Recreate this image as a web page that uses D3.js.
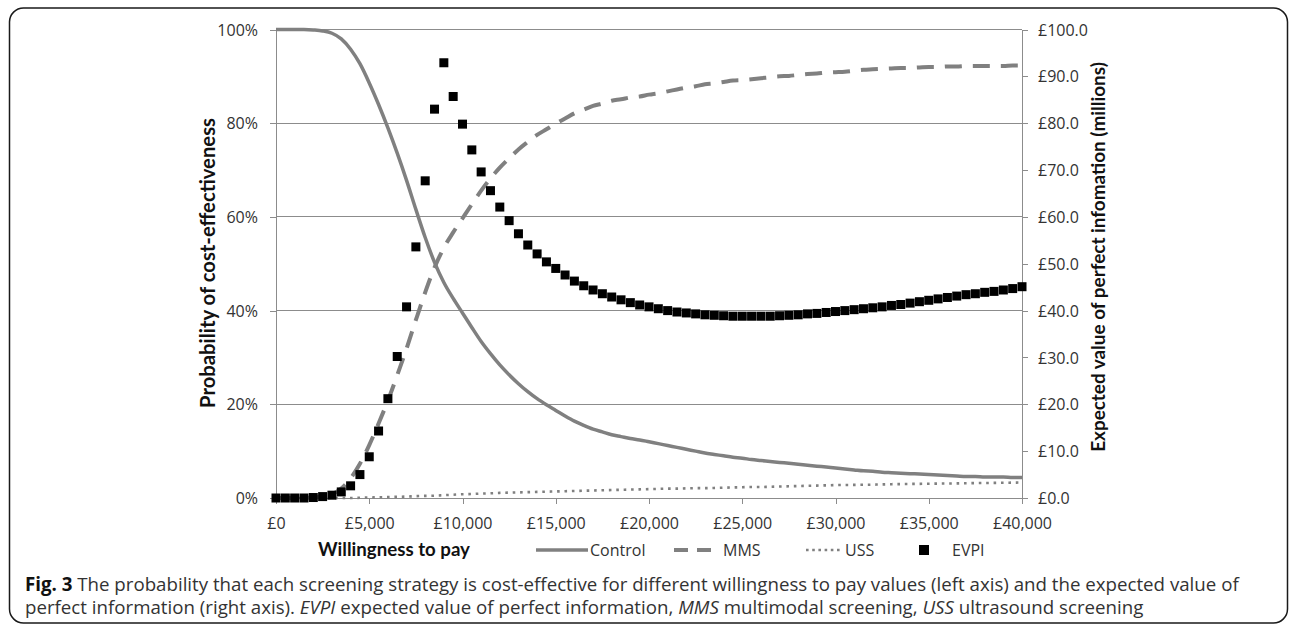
<!DOCTYPE html>
<html>
<head>
<meta charset="utf-8">
<script src="https://cdn.jsdelivr.net/npm/d3@7"></script>
<style>
  html, body { margin: 0; padding: 0; background: #fff; }
  svg { display: block; }
</style>
</head>
<body>
<svg id="chart" width="1290" height="628"></svg>
<script>
// ---------------- DATA ----------------
const wtp = [0,500,1000,1500,2000,2500,3000,3500,4000,4500,5000,5500,6000,6500,7000,7500,8000,8500,9000,9500,
  10000,10500,11000,11500,12000,12500,13000,13500,14000,14500,15000,15500,16000,16500,17000,17500,18000,18500,19000,19500,
  20000,20500,21000,21500,22000,22500,23000,23500,24000,24500,25000,25500,26000,26500,27000,27500,28000,28500,29000,29500,
  30000,30500,31000,31500,32000,32500,33000,33500,34000,34500,35000,35500,36000,36500,37000,37500,38000,38500,39000,39500,40000];

// probability of cost-effectiveness (%)
const control = [100,100,100,100,99.9,99.7,99.2,98.0,95.8,92.7,88.6,84.0,79.0,73.6,67.8,61.6,55.6,50.3,46.0,42.6,
  39.5,36.4,33.4,30.8,28.4,26.3,24.4,22.7,21.2,19.9,18.7,17.5,16.4,15.5,14.7,14.1,13.5,13.1,12.7,12.4,
  12.0,11.6,11.2,10.8,10.4,10.0,9.6,9.3,9.0,8.7,8.5,8.2,8.0,7.8,7.6,7.4,7.2,7.0,6.8,6.6,
  6.4,6.2,6.0,5.8,5.7,5.5,5.4,5.3,5.2,5.1,5.0,4.9,4.8,4.7,4.6,4.6,4.5,4.5,4.5,4.4,4.4];

const mms = [0,0,0,0,0.1,0.3,0.8,2.0,4.2,7.3,11.3,15.9,20.8,26.2,31.9,38.0,43.9,49.2,53.4,56.7,
  59.7,62.7,65.6,68.2,70.5,72.5,74.4,76.0,77.5,78.7,79.9,81.0,82.1,82.9,83.7,84.2,84.8,85.1,85.5,85.7,
  86.1,86.4,86.8,87.2,87.6,87.9,88.3,88.5,88.8,89.1,89.2,89.4,89.6,89.8,90.0,90.1,90.3,90.5,90.6,90.8,
  90.9,91.0,91.2,91.4,91.5,91.6,91.7,91.8,91.8,91.9,92.0,92.0,92.1,92.1,92.2,92.2,92.2,92.2,92.2,92.3,92.3];

const uss = [0,0,0,0,0,0,0,0,0,0.05,0.1,0.15,0.2,0.25,0.3,0.4,0.45,0.5,0.6,0.7,
  0.8,0.85,0.95,1.0,1.1,1.15,1.2,1.25,1.3,1.35,1.4,1.45,1.5,1.55,1.6,1.65,1.7,1.75,1.8,1.85,
  1.9,1.95,2.0,2.0,2.05,2.1,2.1,2.15,2.2,2.25,2.3,2.35,2.35,2.4,2.45,2.5,2.55,2.6,2.65,2.7,
  2.75,2.78,2.8,2.83,2.85,2.9,2.95,2.97,3.0,3.02,3.05,3.08,3.1,3.12,3.15,3.18,3.2,3.22,3.25,3.28,3.3];

// expected value of perfect information (£ millions)
const evpi = [0,0,0,0,0.1,0.3,0.6,1.3,2.6,5.0,8.8,14.3,21.2,30.2,40.8,53.6,67.7,83.0,92.9,85.7,
  79.8,74.3,69.6,65.6,62.1,59.2,56.4,54.0,52.1,50.4,49.0,47.6,46.3,45.3,44.4,43.6,42.9,42.3,41.7,41.2,
  40.8,40.4,40.0,39.7,39.5,39.3,39.1,39.0,38.9,38.8,38.8,38.8,38.8,38.8,38.9,39.0,39.1,39.3,39.4,39.6,
  39.8,40.0,40.2,40.4,40.6,40.8,41.1,41.3,41.6,41.9,42.2,42.5,42.8,43.1,43.4,43.6,43.9,44.1,44.4,44.7,45.1];

const xTicks = [0,5000,10000,15000,20000,25000,30000,35000,40000];
const leftTicks = [0,20,40,60,80,100];
const rightTicks = [0,10,20,30,40,50,60,70,80,90,100];

const seriesNames = ["Control","MMS","USS","EVPI"];
const xTitle = "Willingness to pay";
const leftTitle = "Probability of cost-effectiveness";
const rightTitle = "Expected value of perfect infomation (millions)";

// ---------------- LAYOUT ----------------
const svg = d3.select("#chart");
const L = 276, R = 1022, T = 29.5, B = 498;
const gridCol = "#8c8c8c";
const lineCol = "#808080";
const textCol = "#333";
const tickFont = "'Open Sans', sans-serif";
const titleFont = "Lato, 'Open Sans', sans-serif";

const x = d3.scaleLinear().domain([0, 40000]).range([L, R]);
const yL = d3.scaleLinear().domain([0, 100]).range([B, T]);
const yR = d3.scaleLinear().domain([0, 100]).range([B, T]);

function fit(sel, target) {
  const w = sel.node().getComputedTextLength();
  const fs = parseFloat(sel.attr("font-size"));
  sel.attr("font-size", (fs * target / w).toFixed(2));
}

// outer frame
svg.append("rect").attr("x", 9.5).attr("y", 8).attr("width", 1278).attr("height", 615)
  .attr("rx", 14).attr("ry", 14).attr("fill", "none").attr("stroke", "#1a1a1a").attr("stroke-width", 1.5);

// gridlines
svg.append("g").selectAll("line").data(leftTicks.filter(d => d > 0)).join("line")
  .attr("x1", L).attr("x2", R).attr("y1", d => yL(d)).attr("y2", d => yL(d))
  .attr("stroke", gridCol).attr("stroke-width", 1).attr("shape-rendering", "crispEdges");

// left axis
const gL = svg.append("g").attr("transform", `translate(${L},0)`)
  .call(d3.axisLeft(yL).tickValues(leftTicks).tickSize(6).tickPadding(12).tickFormat(d => d + "%"));
// bottom axis
const gB = svg.append("g").attr("transform", `translate(0,${B})`)
  .call(d3.axisBottom(x).tickValues(xTicks).tickSize(6).tickPadding(12)
    .tickFormat(d => "£" + d3.format(",")(d)));
// right axis
const gR = svg.append("g").attr("transform", `translate(${R},0)`)
  .call(d3.axisRight(yR).tickValues(rightTicks).tickSize(6).tickPadding(10)
    .tickFormat(d => "£" + d.toFixed(1)));

[gL, gB, gR].forEach(g => {
  g.select(".domain").attr("stroke", gridCol).attr("stroke-width", 1);
  g.selectAll(".tick line").attr("stroke", gridCol).attr("stroke-width", 1);
  g.selectAll(".tick text").attr("fill", textCol).attr("font-family", tickFont).attr("font-size", 16);
  g.attr("font-family", tickFont).attr("shape-rendering", "crispEdges");
});
gL.select(".domain").attr("d", `M0,${T}V${B}`);
gR.select(".domain").attr("d", `M0,${T}V${B}`);
gB.select(".domain").attr("d", `M${L},0H${R}`);
gB.selectAll(".tick text").attr("y", 25).attr("dy", "0.35em");
gL.selectAll(".tick text").attr("dy", "0.35em");
gR.selectAll(".tick text").attr("dy", "0.35em");

// ---------------- SERIES ----------------
const line = (arr) => d3.line().x((d, i) => x(wtp[i])).y(d => yL(d)).curve(d3.curveMonotoneX)(arr);

svg.append("path").attr("d", line(control)).attr("fill", "none")
  .attr("stroke", lineCol).attr("stroke-width", 3.5);
svg.append("path").attr("d", line(mms)).attr("fill", "none")
  .attr("stroke", lineCol).attr("stroke-width", 4).attr("stroke-dasharray", "17,11");
svg.append("path").attr("d", line(uss)).attr("fill", "none")
  .attr("stroke", lineCol).attr("stroke-width", 2.6).attr("stroke-dasharray", "2.6,4.8");

const sq = 9;
svg.append("g").selectAll("rect").data(evpi).join("rect")
  .attr("x", (d, i) => x(wtp[i]) - sq / 2).attr("y", d => yR(d) - sq / 2)
  .attr("width", sq).attr("height", sq).attr("fill", "#000");

// ---------------- TITLES ----------------
const tL = svg.append("text").text(leftTitle).attr("font-family", titleFont).attr("font-weight", "bold")
  .attr("font-size", 16).attr("fill", "#111").attr("text-anchor", "middle").attr("dominant-baseline", "central")
  .attr("transform", "translate(207,263) rotate(-90)");
fit(tL, 290);
const tR = svg.append("text").text(rightTitle).attr("font-family", titleFont).attr("font-weight", "bold")
  .attr("font-size", 16).attr("fill", "#111").attr("text-anchor", "middle").attr("dominant-baseline", "central")
  .attr("transform", "translate(1097,257) rotate(-90)");
fit(tR, 390);
const tX = svg.append("text").text(xTitle).attr("font-family", titleFont).attr("font-weight", "bold")
  .attr("font-size", 16).attr("fill", "#111").attr("x", 318).attr("y", 549).attr("dominant-baseline", "central");
fit(tX, 152);

// ---------------- LEGEND ----------------
const ly = 550;
const leg = svg.append("g").attr("font-family", tickFont).attr("font-size", 16).attr("fill", textCol);
leg.append("line").attr("x1", 536).attr("x2", 588).attr("y1", ly).attr("y2", ly)
  .attr("stroke", lineCol).attr("stroke-width", 3.5);
leg.append("text").attr("x", 590).attr("y", ly).attr("dy", "0.35em").text(seriesNames[0]);
leg.append("line").attr("x1", 674).attr("x2", 719).attr("y1", ly).attr("y2", ly)
  .attr("stroke", lineCol).attr("stroke-width", 4).attr("stroke-dasharray", "14,9");
leg.append("text").attr("x", 723).attr("y", ly).attr("dy", "0.35em").text(seriesNames[1]);
leg.append("line").attr("x1", 806).attr("x2", 842).attr("y1", ly).attr("y2", ly)
  .attr("stroke", lineCol).attr("stroke-width", 2.6).attr("stroke-dasharray", "2.6,3.6");
leg.append("text").attr("x", 845).attr("y", ly).attr("dy", "0.35em").text(seriesNames[2]);
leg.append("rect").attr("x", 919).attr("y", ly - 5).attr("width", 10).attr("height", 10).attr("fill", "#000");
leg.append("text").attr("x", 952).attr("y", ly).attr("dy", "0.35em").text(seriesNames[3]);

// ---------------- CAPTION ----------------
const capFont = "'Open Sans', 'Noto Sans', sans-serif";
const c1 = svg.append("text").attr("x", 25).attr("y", 584).attr("dy", "0.35em")
  .attr("font-family", capFont).attr("font-size", 17).attr("fill", "#333");
c1.append("tspan").attr("font-weight", "bold").attr("fill", "#111").text("Fig. 3");
c1.append("tspan").text(" The probability that each screening strategy is cost-effective for different willingness to pay values (left axis) and the expected value of");
fit(c1, 1214);
const c2 = svg.append("text").attr("x", 25).attr("y", 607).attr("dy", "0.35em")
  .attr("font-family", capFont).attr("font-size", 17).attr("fill", "#333");
c2.append("tspan").text("perfect information (right axis). ");
c2.append("tspan").attr("font-style", "italic").text("EVPI");
c2.append("tspan").text(" expected value of perfect information, ");
c2.append("tspan").attr("font-style", "italic").text("MMS");
c2.append("tspan").text(" multimodal screening, ");
c2.append("tspan").attr("font-style", "italic").text("USS");
c2.append("tspan").text(" ultrasound screening");
c2.attr("font-size", c1.attr("font-size"));
</script>
</body>
</html>
